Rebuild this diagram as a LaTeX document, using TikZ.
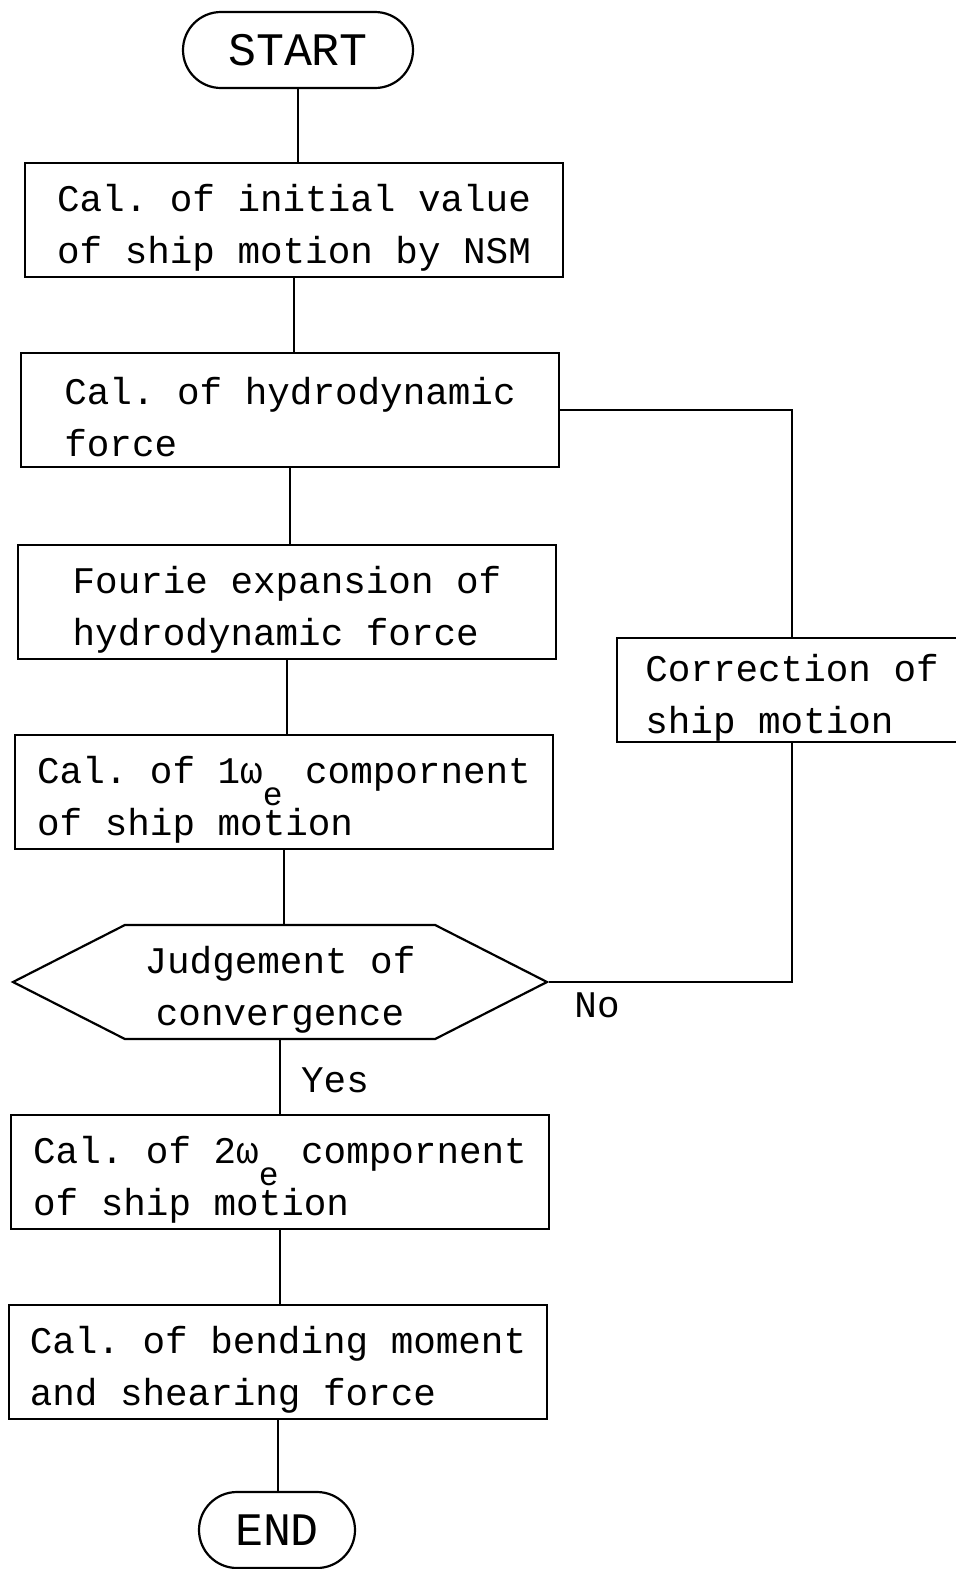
\documentclass[tikz,border=0pt]{standalone}
\usepackage{fontspec}
\setmonofont{Liberation Mono}
\usetikzlibrary{shapes.misc,shapes.symbols}

\newcommand{\omegae}[1]{#1ω\raisebox{-0.6em}{\fontsize{16.5}{26}\selectfont e}}

\begin{document}
\begin{tikzpicture}[x=0.5pt,y=-0.5pt]
    \useasboundingbox (0,0) rectangle (956,1569);
    \clip (0,0) rectangle (956,1569);

    \tikzset{BoxStyle/.style={draw, line width=1.1pt, rectangle, align=left, inner sep=0pt,
        minimum width=269pt, minimum height=57pt, font=\ttfamily\fontsize{18.8}{26}\selectfont,
        execute at begin node={\rule{0pt}{47pt}}}}
    \tikzset{TermStyle/.style={draw, line width=1.1pt, rounded rectangle, inner sep=0pt,
        minimum height=38pt, font=\ttfamily\fontsize{23.3}{26}\selectfont}}
    \tikzset{JudgeStyle/.style={BoxStyle, align=center, signal, signal to=east and west,
        signal pointer angle=54, minimum width=267pt}}
    \tikzset{EdgeStyle/.style={line width=1.1pt}}
    \tikzset{LabelStyle/.style={font=\ttfamily\fontsize{18.8}{26}\selectfont}}

    \node[TermStyle, minimum width=115pt] (start) at (298,50) {START};
    \node[BoxStyle] (init) at (294,220) {Cal. of initial value\\of ship motion by NSM};
    \node[BoxStyle] (hydro) at (290,410) {Cal. of hydrodynamic\\force};
    \node[BoxStyle] (fourie) at (287,602) {Fourie expansion of\\hydrodynamic force};
    \node[BoxStyle] (first) at (284,792) {Cal. of \omegae{1} compornent\\of ship motion};
    \node[JudgeStyle] (judge) at (280,982) {Judgement of\\convergence};
    \node[BoxStyle] (second) at (280,1172) {Cal. of \omegae{2} compornent\\of ship motion};
    \node[BoxStyle] (moment) at (278,1362) {Cal. of bending moment\\and shearing force};
    \node[TermStyle, minimum width=78pt] (end) at (277,1530) {END};

    \node[BoxStyle, minimum width=175pt, minimum height=52pt] (corr) at (792,690) {Correction of\\ship motion};

    \draw[EdgeStyle] (start.south) -- (start.south |- init.north);
    \draw[EdgeStyle] (init.south) -- (init.south |- hydro.north);
    \draw[EdgeStyle] (hydro.south) -- (hydro.south |- fourie.north);
    \draw[EdgeStyle] (fourie.south) -- (fourie.south |- first.north);
    \draw[EdgeStyle] (first.south) -- (first.south |- judge.north);
    \draw[EdgeStyle] (judge.south) -- (judge.south |- second.north);
    \draw[EdgeStyle] (second.south) -- (second.south |- moment.north);
    \draw[EdgeStyle] (moment.south) -- (moment.south |- end.north);

    \draw[EdgeStyle] (hydro.east) -| (corr.north);
    \draw[EdgeStyle] (judge.east) -| (corr.south);
    \node[LabelStyle] (no) at (597,1005) {No};
    \node[LabelStyle] (yes) at (335,1080) {Yes};
\end{tikzpicture}
\end{document}
